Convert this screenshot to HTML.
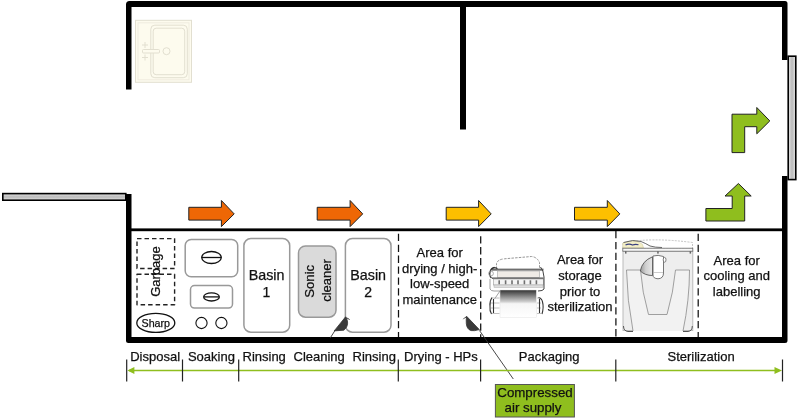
<!DOCTYPE html>
<html><head><meta charset="utf-8">
<style>
html,body{margin:0;padding:0;background:#fff;width:800px;height:419px;overflow:hidden}
svg{position:absolute;left:0;top:0;display:block;will-change:transform}
text{font-family:"Liberation Sans",sans-serif;fill:#111;stroke:#111;stroke-width:0.25px}
</style></head>
<body>
<svg width="800" height="419" viewBox="0 0 800 419">
<!-- walls -->
<g fill="#000">
  <path d="M129.5,1 H785 Q787.5,1 787.5,3.5 V60 H782 V7 H131.5 V89.5 H126 V4.5 Q126,1 129.5,1 Z"/>
  <rect x="460" y="3" width="6" height="126.5"/>
  <path d="M126,194 H131.5 V337 H782 V176 H787.5 V340.5 Q787.5,343 785,343 H128.5 Q126,343 126,340.5 Z"/>
  <rect x="131" y="228.4" width="651" height="2.8"/>
</g>
<!-- windows -->
<defs>
  <linearGradient id="winh" x1="0" y1="0" x2="1" y2="0"><stop offset="0" stop-color="#e4e4e4"/><stop offset="0.5" stop-color="#bababa"/><stop offset="1" stop-color="#e4e4e4"/></linearGradient>
  <linearGradient id="winv" x1="0" y1="0" x2="0" y2="1"><stop offset="0" stop-color="#e4e4e4"/><stop offset="0.5" stop-color="#bababa"/><stop offset="1" stop-color="#e4e4e4"/></linearGradient>
</defs>
<rect x="788.2" y="56.2" width="7.6" height="123.4" fill="url(#winh)" stroke="#000" stroke-width="1.6"/>
<rect x="2.8" y="193.6" width="123" height="6.6" fill="url(#winv)" stroke="#000" stroke-width="1.6"/>
<!-- sink -->
<g fill="#fdfbee" stroke="#e2dfd0" stroke-width="1">
  <rect x="135.5" y="20.3" width="56" height="62"/>
  <rect x="138" y="22.8" width="51" height="57" stroke="#efecdf"/>
  <rect x="150.8" y="25.2" width="36.5" height="52.5" rx="4"/>
  <rect x="153.2" y="28.2" width="31.5" height="46.5" rx="3"/>
  <rect x="142.5" y="49.5" width="17" height="3.5" rx="1"/>
  <circle cx="166.5" cy="51.2" r="3.5"/>
  <path d="M142,45 H148 M145,42 V48 M142,57.5 H148 M145,54.5 V60.5" fill="none"/>
</g>
<!-- arrows -->
<g stroke="#222" stroke-width="1" stroke-linejoin="miter">
  <path d="M188.8,207.3 H221.4 V200.5 L234.2,213.9 L221.4,226.6 V220.1 H188.8 Z" fill="#ee6705"/>
  <path d="M317.2,207.3 H350.1 V200.5 L362.7,213.9 L350.1,226.6 V220.1 H317.2 Z" fill="#ee6705"/>
  <path d="M446.2,207.3 H478.6 V200.5 L491.2,213.9 L478.6,226.6 V220.1 H446.2 Z" fill="#fdbf00"/>
  <path d="M574.5,207.3 H607.3 V200.5 L619.8,213.9 L607.3,226.6 V220.1 H574.5 Z" fill="#fdbf00"/>
  <path d="M705.9,221 V208.5 H732.2 V196 H725 L738.4,183.5 L751.2,196 H744.7 V221 Z" fill="#8fbe1e"/>
  <path d="M732,152.6 V114.2 H756.8 V107.5 L769.8,120.9 L756.8,133.8 V126.7 H744.7 V152.6 Z" fill="#8fbe1e"/>
</g>
<!-- dashed separators -->
<g stroke="#111" stroke-width="1.25" stroke-dasharray="7.3,3.6">
  <line x1="398.5" y1="233.8" x2="398.5" y2="337"/>
  <line x1="480.7" y1="236.2" x2="480.7" y2="337"/>
  <line x1="615.9" y1="231" x2="615.9" y2="337"/>
  <line x1="698.2" y1="233.8" x2="698.2" y2="337"/>
</g>
<!-- garbage -->
<g fill="none" stroke="#222" stroke-width="1.4" stroke-dasharray="4.5,3" stroke-linejoin="round">
  <rect x="137" y="238.6" width="37.6" height="29.9"/>
  <rect x="137" y="274.3" width="37.6" height="30.4"/>
</g>
<text transform="translate(160,271.5) rotate(-90)" font-size="13" text-anchor="middle">Garbage</text>
<ellipse cx="155.8" cy="322.9" rx="19" ry="9.5" fill="none" stroke="#111" stroke-width="1.3"/>
<text x="155.8" y="327.4" font-size="10.7" text-anchor="middle">Sharp</text>
<!-- soaking sinks -->
<g fill="none" stroke="#999" stroke-width="1.5">
  <rect x="185.2" y="239.4" width="52.5" height="37.3" rx="6"/>
  <rect x="190.5" y="285.6" width="42" height="22.5" rx="4"/>
</g>
<g fill="none" stroke="#111" stroke-width="1.3">
  <ellipse cx="211.5" cy="257.5" rx="9.8" ry="6"/>
  <line x1="201.7" y1="257.5" x2="221.3" y2="257.5"/>
  <ellipse cx="211.5" cy="296.9" rx="7.8" ry="4.1"/>
  <line x1="203.7" y1="296.9" x2="219.3" y2="296.9"/>
  <circle cx="201.5" cy="323" r="5.6" stroke-width="1.1"/>
  <circle cx="221.4" cy="323" r="5.6" stroke-width="1.1"/>
</g>
<!-- basins -->
<g fill="#fff" stroke="#999" stroke-width="1.5">
  <rect x="243.9" y="238.6" width="45.8" height="93.6" rx="7"/>
  <rect x="345.4" y="238.6" width="45.6" height="93.6" rx="7"/>
  <rect x="298.5" y="246" width="37.5" height="71.2" rx="7" fill="#dadada"/>
</g>
<text x="266.6" y="280.3" font-size="14.3" text-anchor="middle">Basin</text>
<text x="266.5" y="296.8" font-size="14" text-anchor="middle">1</text>
<text x="368.2" y="280.3" font-size="14.3" text-anchor="middle">Basin</text>
<text x="368.2" y="296.8" font-size="14" text-anchor="middle">2</text>
<text transform="translate(314.3,281.3) rotate(-90)" font-size="13.2" text-anchor="middle">Sonic</text>
<text transform="translate(330.5,280.5) rotate(-90)" font-size="13" text-anchor="middle">cleaner</text>
<!-- nozzles -->
<g fill="#3a3a3a" stroke="#333" stroke-width="0.8">
  <path d="M345.6,316.8 C348.6,321 348.4,327 343.8,330.2 L334.2,330.9 Z"/>
  <path d="M466.6,316.3 L479.3,329.6 Q474.5,331.2 471,330.6 Q466.8,329.2 466.3,323.5 Q466,319 466.6,316.3 Z"/>
</g>
<g fill="none" stroke="#333" stroke-width="0.9">
  <path d="M335,330.5 L330.2,338"/>
  <path d="M346,318 Q349,318 349.5,320"/>
  <path d="M466.8,317 Q464.6,317 463.4,319.2"/>
  <path d="M479.4,330.4 L513.3,379"/>
</g>
<!-- area texts -->
<g font-size="13" text-anchor="middle">
  <text x="439.7" y="256.8">Area for</text>
  <text x="439.7" y="272.5">drying / high-</text>
  <text x="439.7" y="288.2">low-speed</text>
  <text x="439.7" y="303.9">maintenance</text>
  <text x="580" y="264.4">Area for</text>
  <text x="580" y="280">storage</text>
  <text x="580" y="295.6">prior to</text>
  <text x="580" y="311.3">sterilization</text>
  <text x="736.7" y="264.7">Area for</text>
  <text x="736.7" y="280.3">cooling and</text>
  <text x="736.7" y="295.9">labelling</text>
</g>
<!-- sealer placeholder -->
<g id="sealer">
  <defs>
    <linearGradient id="pouch" x1="0" y1="0" x2="0" y2="1">
      <stop offset="0" stop-color="#303030"/>
      <stop offset="0.08" stop-color="#505050"/>
      <stop offset="0.42" stop-color="#cdcdcd"/>
      <stop offset="0.5" stop-color="#f6f6f6"/>
      <stop offset="1" stop-color="#ffffff"/>
    </linearGradient>
  </defs>
  <path d="M496.5,269 V263.5 Q497.5,259.5 504.5,258.8 L531.5,256.5 Q537,257 539.5,262.5 V269" fill="#fff" stroke="#8a8a8a" stroke-width="0.9" stroke-dasharray="2.5,1.2"/>
  <rect x="492" y="268.6" width="51.5" height="2.1" fill="#6e6e6e"/>
  <rect x="497.6" y="271" width="42" height="6.4" fill="#efebe6" stroke="#b0b0b0" stroke-width="0.7"/>
  <rect x="492" y="277.5" width="51.5" height="1.4" fill="#555"/>
  <rect x="493.5" y="279" width="50" height="6" fill="#f4f4f4" stroke="#9a9a9a" stroke-width="0.6"/>
  <g fill="#707070">
    <rect x="498.4" y="280.3" width="1.6" height="4"/>
    <rect x="504.8" y="280.3" width="1.6" height="4"/>
    <rect x="511.2" y="280.3" width="1.6" height="4"/>
    <rect x="517.2" y="280.3" width="1.6" height="4"/>
    <rect x="523.6" y="280.3" width="1.6" height="4"/>
    <rect x="529.6" y="280.3" width="1.6" height="4"/>
    <rect x="535.6" y="280.3" width="1.6" height="4"/>
  </g>
  <rect x="494" y="285" width="49" height="2.3" fill="#dedede" stroke="#aaa" stroke-width="0.5"/>
  <rect x="500" y="290" width="36.3" height="27.5" fill="url(#pouch)" stroke="#e4e4e4" stroke-width="0.5"/>
  <path d="M494.5,267.5 Q491,268 490,272 Q489,276 491.5,278 M494.5,267.5 L497.5,268.5" fill="none" stroke="#333" stroke-width="1.3"/>
  <circle cx="491" cy="273.5" r="2.4" fill="none" stroke="#999" stroke-width="0.8"/>
  <path d="M490,279 V289 Q491,291 494,291 H500 M500,291 L494.5,299" fill="none" stroke="#888" stroke-width="0.8"/>
  <path d="M540.5,267 Q543.5,270 544,277 V289 Q543,291 538,291" fill="none" stroke="#444" stroke-width="1"/>
  <path d="M492,298 H499.5 M491,303 H499.5 M491,308 H499.5 M492,313.5 H499.5" fill="none" stroke="#b0b0b0" stroke-width="0.8"/>
  <path d="M492,297.5 Q489.5,301 490,306 Q489.5,311 491.5,314 M493.5,299 V313" fill="none" stroke="#333" stroke-width="1.1"/>
  <path d="M537,298 H541 M537,303 H541 M537,308 H541 M537,313.5 H541" fill="none" stroke="#b0b0b0" stroke-width="0.8"/>
  <path d="M538.5,297.5 Q542,298.5 542.5,302 Q544,307 542,314 M539.5,299 V313" fill="none" stroke="#333" stroke-width="1.1"/>
</g>
<!-- sterilizer placeholder -->
<g id="steril">
  <defs>
    <linearGradient id="cres" x1="0" y1="0" x2="1" y2="0">
      <stop offset="0" stop-color="#9a9a9a"/>
      <stop offset="0.45" stop-color="#d0d0d0"/>
      <stop offset="1" stop-color="#e8e8e8"/>
    </linearGradient>
  </defs>
  <path d="M623,248.5 V243 Q650,237 692.5,242.5 V248.5 Z" fill="#fff" stroke="#aaa" stroke-width="0.7" stroke-dasharray="2,1.2"/>
  <path d="M622.8,248 V243 Q630,240.5 636,241 Q640,242 642.5,244.5 L643.5,248 Z" fill="#f3eec6" stroke="#d0c9a0" stroke-width="0.6"/>
  <path d="M625.5,245 Q629,243.2 632.5,245 Q635.5,243.8 638.5,244.8" fill="none" stroke="#3a4080" stroke-width="1.2"/>
  <path d="M623.5,242.5 Q633,239 641,241.5 Q646,243.5 650,246 Q655,247.5 662,247.5" fill="none" stroke="#444" stroke-width="0.8"/>
  <rect x="623" y="251" width="69.8" height="79.5" fill="#eeeeee" stroke="#b4b4b4" stroke-width="0.9"/>
  <rect x="622.8" y="248.2" width="70" height="3" fill="#f8f8f8" stroke="#666" stroke-width="0.8"/>
  <g fill="#666"><rect x="625" y="251.2" width="1.5" height="2.4"/><rect x="657.2" y="251.2" width="1.5" height="2.4"/><rect x="689.6" y="251.2" width="1.5" height="2.4"/></g>
  <path d="M633,331 Q627,300 626.5,270 H640.5 Q642,292 648.5,314.5 H667 Q673.5,292 675.5,270 H689.5 Q689.5,300 683,331" fill="#f2f2f2" stroke="#8a8a8a" stroke-width="0.8"/>
  <path d="M640.3,271 Q642,261 652.5,256.8 V275.5 Q645,275.5 640.3,271 Z" fill="url(#cres)" stroke="#555" stroke-width="0.9"/>
  <path d="M653,256 Q658,254.5 663.5,256.5 V273 Q663.5,278.5 658,278.8 Q653,278.5 653,275 Z" fill="#fff" stroke="#666" stroke-width="0.9"/>
  <line x1="653.5" y1="272.5" x2="663" y2="272.5" stroke="#aaa" stroke-width="0.6"/>
  <ellipse cx="664.6" cy="259.8" rx="1.4" ry="2.4" fill="#fff" stroke="#666" stroke-width="0.8"/>
  <path d="M623.5,326 Q623.5,331 628,331.5 H633 M692.3,326 Q692.3,331 688,331.5 H683" fill="none" stroke="#555" stroke-width="1"/>
</g>
</g>
<!-- bottom timeline -->
<line x1="129" y1="370.5" x2="777" y2="370.5" stroke="#8fbe1e" stroke-width="1.6"/>
<path d="M127.4,370.5 L134.4,367 V374 Z" fill="#8fbe1e"/>
<path d="M782,370.5 L774.5,367 V374 Z" fill="#8fbe1e"/>
<g stroke="#222" stroke-width="1.2">
  <line x1="126.7" y1="359.5" x2="126.7" y2="381.5"/>
  <line x1="182.5" y1="359.5" x2="182.5" y2="381.5"/>
  <line x1="238.7" y1="359.5" x2="238.7" y2="381.5"/>
  <line x1="398.3" y1="359.5" x2="398.3" y2="381.5"/>
  <line x1="480.6" y1="359.5" x2="480.6" y2="381.5"/>
  <line x1="615.8" y1="359.5" x2="615.8" y2="381.5"/>
  <line x1="782.5" y1="359.5" x2="782.5" y2="381.5"/>
</g>
<g font-size="13" fill="#1a1a1a">
  <text x="130.2" y="360.7">Disposal</text>
  <text x="187.9" y="360.7">Soaking</text>
  <text x="242.5" y="360.7">Rinsing</text>
  <text x="293.5" y="360.7">Cleaning</text>
  <text x="352.6" y="360.7">Rinsing</text>
  <text x="404.1" y="360.7">Drying - HPs</text>
  <text x="518.8" y="360.7">Packaging</text>
  <text x="667.5" y="360.7">Sterilization</text>
</g>
<!-- compressed air -->
<rect x="495.4" y="384.5" width="79" height="32.5" fill="#8fbe1e" stroke="#555" stroke-width="1"/>
<text x="535" y="396.8" font-size="13.3" text-anchor="middle">Compressed</text>
<text x="533" y="412.3" font-size="13.3" text-anchor="middle">air supply</text>
</svg>
</body></html>
